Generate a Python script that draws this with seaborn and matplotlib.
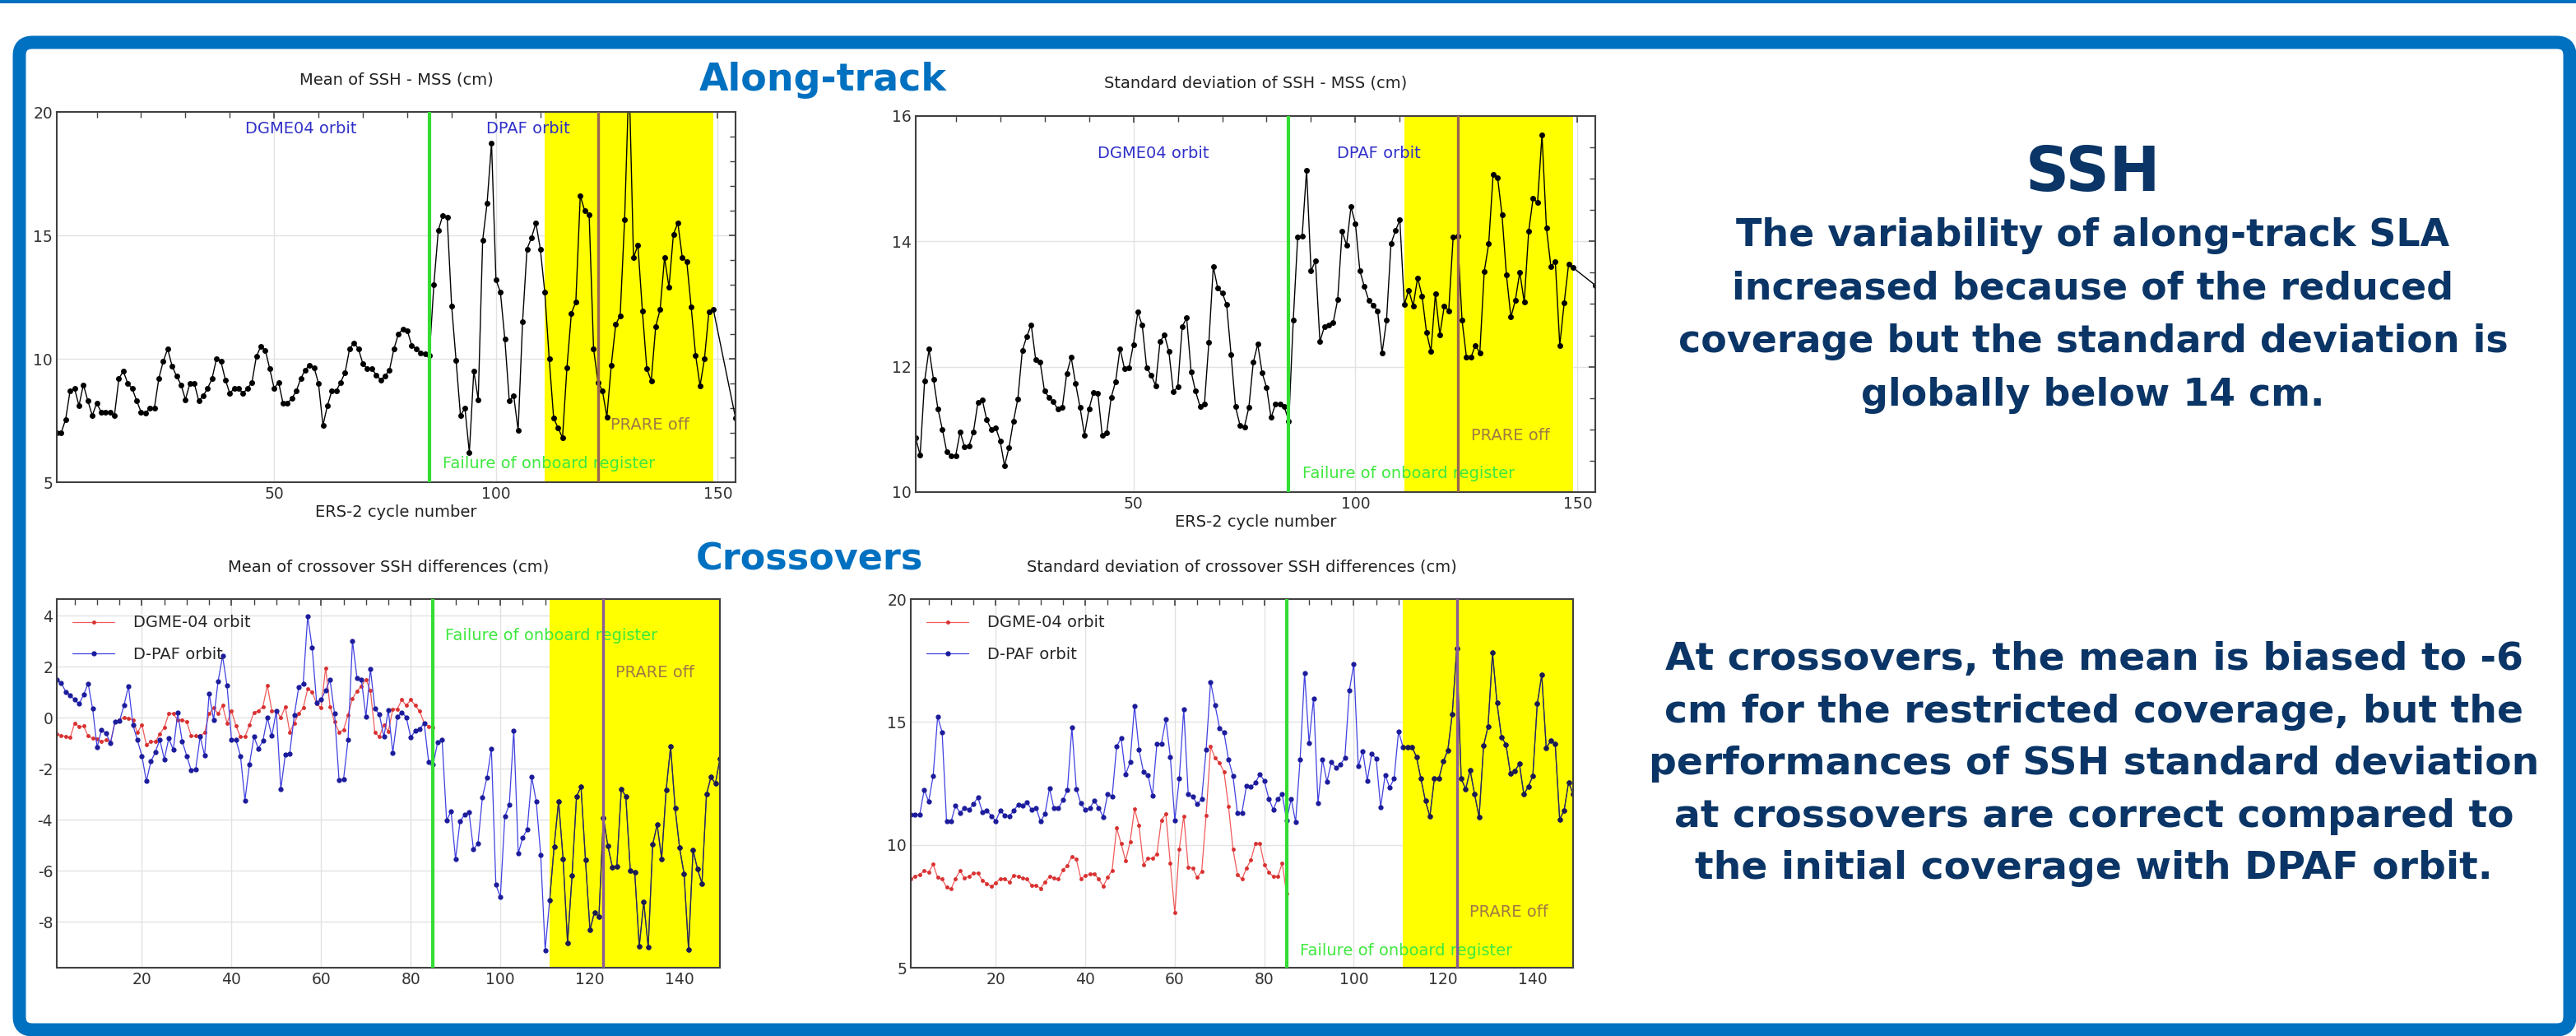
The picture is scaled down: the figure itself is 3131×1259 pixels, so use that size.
import numpy as np
import pandas as pd
import seaborn as sns
import matplotlib.pyplot as plt
from matplotlib.patches import FancyBboxPatch, Rectangle
from matplotlib.ticker import MultipleLocator

# values (ERS-2 cycles)
ssh_mean = [7.0, 7.0, 7.55, 8.7, 8.8, 8.1, 8.95, 8.3, 7.7, 8.2,
            7.85, 7.85, 7.85, 7.7, 9.2, 9.5, 9.0, 8.8, 8.3, 7.85,
            7.8, 8.0, 8.0, 9.2, 9.9, 10.4, 9.7, 9.3, 8.95, 8.35,
            9.0, 9.0, 8.3, 8.5, 8.8, 9.2, 10.0, 9.9, 9.15, 8.6,
            8.8, 8.8, 8.6, 8.8, 9.05, 10.1, 10.5, 10.35, 9.6, 8.8,
            9.05, 8.2, 8.2, 8.4, 8.7, 9.2, 9.55, 9.75, 9.65, 9.0,
            7.3, 8.1, 8.7, 8.7, 9.05, 9.45, 10.4, 10.65, 10.4, 9.8,
            9.6, 9.6, 9.35, 9.15, 9.3, 9.55, 10.4, 11.0, 11.2, 11.15,
            10.55, 10.4, 10.25, 10.2, 10.15, 13.0, 15.2, 15.8, 15.75, 12.15,
            9.95, 7.7, 8.0, 6.2, 9.5, 8.35, 14.8, 16.3, 18.75, 13.2,
            12.7, 10.8, 8.3, 8.5, 7.1, 11.5, 14.45, 14.9, 15.5, 14.45,
            12.7, 10.0, 7.6, 7.2, 6.8, 9.65, 11.85, 12.3, 16.6, 16.0,
            15.85, 10.4, 9.05, 8.7, 7.65, 9.75, 11.4, 11.75, 15.65, 21.5,
            14.1, 14.6, 11.95, 9.6, 9.1, 11.3, 12.0, 14.1, 12.9, 15.05,
            15.5, 14.1, 13.95, 12.1, 10.15, 8.9, 10.0, 11.9, 12.0]

ssh_std = [10.86, 10.59, 11.77, 12.28, 11.8, 11.33, 11.0, 10.64, 10.58, 10.58,
           10.96, 10.72, 10.74, 10.96, 11.43, 11.47, 11.15, 11.0, 11.03, 10.82,
           10.42, 10.71, 11.13, 11.49, 12.26, 12.48, 12.67, 12.12, 12.08, 11.61,
           11.51, 11.44, 11.32, 11.35, 11.89, 12.15, 11.73, 11.35, 10.91, 11.32,
           11.59, 11.58, 10.90, 10.94, 11.51, 11.76, 12.29, 11.97, 11.98, 12.35,
           12.87, 12.66, 11.98, 11.87, 11.70, 12.40, 12.51, 12.24, 11.60, 11.68,
           12.64, 12.78, 11.92, 11.61, 11.37, 11.40, 12.39, 13.60, 13.25, 13.18,
           12.99, 12.19, 11.36, 11.07, 11.04, 11.35, 12.07, 12.36, 11.90, 11.67,
           11.19, 11.40, 11.40, 11.36, 11.13, 12.74, 14.07, 14.08, 15.14, 13.53,
           13.69, 12.40, 12.64, 12.66, 12.71, 13.07, 14.16, 13.94, 14.55, 14.28,
           13.53, 13.28, 13.06, 12.98, 12.89, 12.22, 12.74, 13.96, 14.17, 14.34,
           12.99, 13.22, 12.97, 13.42, 13.13, 12.55, 12.24, 13.16, 12.51, 12.97,
           12.89, 14.07, 14.08, 12.74, 12.15, 12.15, 12.34, 12.22, 13.52, 13.96,
           15.07, 15.02, 14.42, 13.46, 12.79, 13.06, 13.51, 13.03, 14.16, 14.69,
           14.62, 15.70, 14.21, 13.60, 13.68, 12.34, 13.02, 13.64, 13.58]

# last along-track point, sitting on the right edge
tail_cycle = 154
ssh_mean_tail = 7.6
ssh_std_tail = 13.3

xover_mean_dgme = [-0.64, -0.70, -0.73, -0.78, -0.21, -0.35, -0.33, -0.72, -0.81, -0.83,
                   -0.93, -0.88, -0.95, -0.16, -0.10, 0.02, -0.02, -0.10, -0.59, -0.27,
                   -1.07, -0.94, -0.94, -0.64, -0.38, 0.16, 0.16, -0.10, -0.08, -0.16,
                   -0.72, -0.72, -0.72, -0.59, 0.16, 0.38, 0.16, 0.48, -0.21, 0.27,
                   -0.32, -0.75, -0.75, -0.29, 0.21, 0.27, 0.43, 1.27, 0.27, 0.27,
                   0.0, 0.43, -0.56, -0.21, 0.16, 0.38, 1.13, 1.02, 0.54, 0.38,
                   1.95, 0.43, -0.16, -0.56, -0.48, 0.11, 0.75, 1.05, 1.24, 1.5,
                   1.07, -0.59, -0.75, -0.27, -0.54, 0.34, 0.34, 0.7, 0.48, 0.7,
                   0.48, 0.25, -0.21, -0.34, -0.38]

xover_mean_dpaf = [1.5, 1.36, 1.02, 0.89, 0.70, 0.54, 0.91, 1.34, 0.35, -1.15,
                   -0.48, -0.62, -0.99, -0.16, -0.13, 0.48, 1.24, -0.29, -0.88, -1.50,
                   -2.49, -1.72, -1.34, -0.86, -1.63, -0.81, -1.26, 0.19, -0.93, -1.50,
                   -2.06, -2.02, -0.75, -1.48, 0.95, -0.08, 1.42, 2.42, 1.26, -0.86,
                   -0.88, -1.50, -3.24, -1.83, -0.75, -1.21, -0.91, 0.0, -0.72, 0.27,
                   -2.81, -1.45, -1.40, 0.09, 1.20, 1.34, 3.97, 2.74, 0.59, 0.72,
                   1.07, 1.48, 0.16, -2.45, -2.42, -0.88, 3.01, 1.56, 1.48, 0.03,
                   1.90, 0.35, 0.13, -0.75, 0.29, -1.37, 0.03, 0.21, 0.02, -0.77,
                   -0.52, -0.45, -0.21, -1.74, -1.83, -0.97, -0.86, -4.03, -3.67, -5.55,
                   -4.06, -3.81, -3.71, -5.16, -4.94, -3.11, -2.36, -1.21, -6.55, -7.03,
                   -3.87, -3.40, -0.50, -5.32, -4.70, -4.38, -2.33, -3.27, -5.37, -9.11,
                   -7.16, -5.05, -3.27, -5.53, -8.83, -6.20, -3.09, -2.71, -5.58, -8.32,
                   -7.63, -7.79, -3.92, -5.03, -5.85, -5.82, -2.79, -3.09, -5.98, -6.07,
                   -8.97, -7.22, -9.0, -4.97, -4.19, -5.53, -2.84, -1.13, -3.54, -5.10,
                   -6.12, -9.08, -5.18, -5.93, -6.50, -3.01, -2.33, -2.58, -1.61]

xover_std_dgme = [8.60, 8.71, 8.80, 8.94, 8.88, 9.21, 8.67, 8.60, 8.28, 8.20,
                  8.63, 8.94, 8.65, 8.71, 8.85, 8.85, 8.54, 8.43, 8.30, 8.46,
                  8.63, 8.63, 8.48, 8.76, 8.71, 8.65, 8.60, 8.35, 8.35, 8.23,
                  8.48, 8.71, 8.65, 8.60, 8.97, 9.16, 9.53, 9.41, 8.63, 8.74,
                  8.82, 8.82, 8.60, 8.32, 8.67, 8.96, 10.69, 10.05, 9.35, 10.11,
                  11.46, 10.78, 9.19, 9.44, 9.44, 9.63, 11.01, 11.25, 9.24, 7.23,
                  9.83, 11.17, 9.10, 9.04, 8.68, 8.91, 11.20, 14.0, 13.53, 13.33,
                  12.97, 11.57, 9.83, 8.79, 8.60, 9.04, 9.38, 10.05, 10.07, 9.2,
                  8.9, 8.7, 8.7, 9.25, 8.0]

xover_std_dpaf = [11.23, 11.23, 11.23, 12.24, 11.76, 12.8, 15.21, 14.59, 10.95, 10.95,
                  11.59, 11.31, 11.51, 11.42, 11.66, 11.93, 11.34, 11.40, 11.17, 10.97,
                  11.40, 11.19, 11.17, 11.38, 11.64, 11.60, 11.73, 11.42, 11.51, 10.95,
                  11.27, 12.30, 11.48, 11.48, 11.83, 12.22, 14.78, 12.27, 11.68, 11.42,
                  11.49, 11.79, 11.51, 11.14, 12.07, 11.96, 14.0, 14.35, 12.86, 13.36,
                  15.66, 13.87, 12.97, 12.84, 12.0, 14.11, 14.12, 15.10, 13.58, 11.0,
                  12.69, 15.53, 12.05, 11.96, 11.66, 11.85, 13.87, 16.63, 15.68, 14.76,
                  14.56, 13.47, 12.80, 11.29, 11.31, 12.39, 12.35, 12.52, 12.88, 12.60,
                  11.88, 11.43, 11.88, 12.05, 11.0, 11.87, 10.93, 13.47, 17.0, 14.15,
                  15.96, 11.70, 13.47, 12.57, 13.36, 13.13, 13.27, 13.53, 16.27, 17.36,
                  13.19, 13.81, 12.60, 13.70, 13.51, 11.53, 12.85, 12.33, 12.69, 14.61,
                  13.98, 13.98, 13.98, 13.58, 12.69, 11.79, 11.15, 12.69, 12.69, 13.39,
                  13.84, 15.32, 17.98, 12.69, 12.27, 13.03, 12.05, 11.12, 14.03, 14.82,
                  17.81, 15.77, 14.37, 14.09, 12.89, 13.00, 13.30, 12.05, 12.37, 12.80,
                  15.74, 16.91, 13.94, 14.23, 14.12, 11.04, 11.40, 12.55, 12.07]

# events
failure_cycle = 85
prare_cycle = 123
reduced_start, reduced_end = 111, 149

ssh_text = ["The variability of along-track SLA",
            "increased because of the reduced",
            "coverage but the standard deviation is",
            "globally below 14 cm."]
xover_text = ["At crossovers, the mean is biased to -6",
              "cm for the restricted coverage, but the",
              "performances of SSH standard deviation",
              "at crossovers are correct compared to",
              "the initial coverage with DPAF orbit."]

W, H = 3131, 1259
FRAME = '#0070C0'
NAVY = '#0a3566'
FS = 14

sns.set_theme(style='white')
plt.rcParams['font.family'] = ['DejaVu Sans']
plt.rcParams['axes.unicode_minus'] = False

fig = plt.figure(figsize=(W / 100, H / 100), dpi=100)

# background layer in pixel coordinates
bg = fig.add_axes([0, 0, 1, 1])
bg.set_xlim(0, W)
bg.set_ylim(H, 0)
bg.axis('off')
bg.add_patch(Rectangle((0, 0), W, 4, color=FRAME, lw=0))
bg.add_patch(FancyBboxPatch((23.5, 51.5), 3100, 1200,
                            boxstyle='round,pad=0,rounding_size=16',
                            fc='none', ec=FRAME, lw=11.5, clip_on=False))

bg.text(1000, 110, 'Along-track', ha='center', va='baseline', fontsize=33,
        color=FRAME, fontweight='bold')
bg.text(984, 692, 'Crossovers', ha='center', va='baseline', fontsize=32,
        color=FRAME, fontweight='bold')
bg.text(2544, 232, 'SSH', ha='center', va='baseline', fontsize=53,
        color=NAVY, fontweight='bold')
for i, line in enumerate(ssh_text):
    bg.text(2544, 299 + i * 64.5, line, ha='center', va='baseline', fontsize=33,
            color=NAVY, fontweight='bold')
for i, line in enumerate(xover_text):
    bg.text(2545, 814 + i * 63.5, line, ha='center', va='baseline', fontsize=34,
            color=NAVY, fontweight='bold')


def make_ax(left, top, right, bottom):
    return fig.add_axes([left / W, 1 - bottom / H, (right - left) / W, (bottom - top) / H])


def style(ax, xlim, ylim, xmaj, xmin, ymaj, ymin):
    ax.set_xlim(*xlim)
    ax.set_ylim(*ylim)
    ax.xaxis.set_major_locator(MultipleLocator(xmaj))
    ax.xaxis.set_minor_locator(MultipleLocator(xmin))
    ax.yaxis.set_major_locator(MultipleLocator(ymaj))
    ax.yaxis.set_minor_locator(MultipleLocator(ymin))
    ax.tick_params(which='both', direction='in', top=True, right=True,
                   color='#404040', labelsize=13.5, labelcolor='#333333')
    ax.tick_params(which='major', length=6, width=1.2)
    ax.tick_params(which='minor', length=5, width=1)
    ax.set_axisbelow(True)
    ax.grid(True, which='major', color='#e2e2e2', lw=1)
    for s in ax.spines.values():
        s.set_color('#404040')
        s.set_linewidth(1.5)
    ax.set_xlabel('')
    ax.set_ylabel('')


def events(ax, prare_colour):
    span = ax.axvspan(reduced_start, reduced_end, color='#ffff00', lw=0, zorder=0.6)
    ax.axvline(failure_cycle, color='#33dd33', lw=3, zorder=3)
    ax.axvline(prare_cycle, color=prare_colour, lw=2.4, zorder=3)
    return span


def labels(ax, failure_xy, prare_xy, orbit_y=None, dgme_x=None, dpaf_x=None):
    if orbit_y is not None:
        ax.text(dgme_x, orbit_y, 'DGME04 orbit', ha='center', va='center',
                color='#3030c8', fontsize=FS)
        ax.text(dpaf_x, orbit_y, 'DPAF orbit', ha='center', va='center',
                color='#3030c8', fontsize=FS)
    ax.text(*prare_xy, 'PRARE off', ha='left', va='center', color='#a07845', fontsize=FS)
    ax.text(*failure_xy, 'Failure of onboard register', ha='left', va='center',
            color='#3ee83e', fontsize=FS, zorder=1.5)


# ---- along-track mean ----
ax1 = make_ax(69, 136, 894, 586)
events(ax1, '#9a6650')
df1 = pd.DataFrame({'cycle': list(range(1, len(ssh_mean) + 1)) + [tail_cycle],
                    'value': ssh_mean + [ssh_mean_tail]})
sns.lineplot(data=df1, x='cycle', y='value', ax=ax1, color='black', lw=1,
             marker='o', markersize=5, markeredgewidth=0, zorder=2)
style(ax1, (1, 154), (5, 20), 50, 10, 5, 1)
ax1.set_title('Mean of SSH - MSS (cm)', fontsize=FS, color='#222222', pad=24)
ax1.set_xlabel('ERS-2 cycle number', fontsize=FS, color='#222222', labelpad=2)
labels(ax1, (88, 5.75), (125.8, 7.3), 19.3, 56, 107.3)

# ---- along-track std ----
ax2 = make_ax(1113, 141, 1939, 598)
events(ax2, '#9a6650')
df2 = pd.DataFrame({'cycle': list(range(1, len(ssh_std) + 1)) + [tail_cycle],
                    'value': ssh_std + [ssh_std_tail]})
sns.lineplot(data=df2, x='cycle', y='value', ax=ax2, color='black', lw=1,
             marker='o', markersize=5, markeredgewidth=0, zorder=2)
style(ax2, (1, 154), (10, 16), 50, 10, 2, 0.5)
ax2.set_title('Standard deviation of SSH - MSS (cm)', fontsize=FS, color='#222222', pad=25)
ax2.set_xlabel('ERS-2 cycle number', fontsize=FS, color='#222222', labelpad=2)
labels(ax2, (88, 10.3), (126.1, 10.9), 15.4, 54.4, 105.2)


def crossover_panel(ax, dgme, dpaf):
    span = events(ax, '#8a5a9a')
    red = pd.DataFrame({'cycle': range(1, len(dgme) + 1), 'value': dgme})
    blue = pd.DataFrame({'cycle': range(1, len(dpaf) + 1), 'value': dpaf})
    sns.lineplot(data=red, x='cycle', y='value', ax=ax, color='#f05a5a', lw=0.9,
                 marker='o', markersize=3.5, markeredgewidth=0,
                 markerfacecolor='#d83030', label='DGME-04 orbit', zorder=2, legend=False)
    h_red = ax.lines[-1]
    sns.lineplot(data=blue, x='cycle', y='value', ax=ax, color='#4040e0', lw=0.9,
                 marker='o', markersize=4.5, markeredgewidth=0,
                 markerfacecolor='#1c1c9c', label='D-PAF orbit', zorder=2.1, legend=False)
    h_blue = ax.lines[-1]
    # on the yellow band the D-PAF curve reads almost black
    sns.lineplot(data=blue, x='cycle', y='value', ax=ax, color='#2a2a40', lw=0.9,
                 marker='o', markersize=4.5, markeredgewidth=0,
                 markerfacecolor='#1c1c50', zorder=2.2, legend=False)
    ax.lines[-1].set_clip_path(span)
    ax.legend(handles=[h_red, h_blue], loc='upper left', frameon=False, fontsize=FS,
              handlelength=2.6, labelspacing=1.0, borderaxespad=0.6, handletextpad=1.2)


# ---- crossover mean ----
ax3 = make_ax(69, 728, 875, 1176)
crossover_panel(ax3, xover_mean_dgme, xover_mean_dpaf)
style(ax3, (1, 149), (-9.8, 4.65), 20, 5, 2, 0.5)
ax3.set_title('Mean of crossover SSH differences (cm)', fontsize=FS, color='#222222', pad=24)
labels(ax3, (87.6, 3.2), (125.6, 1.77))

# ---- crossover std ----
ax4 = make_ax(1107, 728, 1912, 1176)
crossover_panel(ax4, xover_std_dgme, xover_std_dpaf)
style(ax4, (1, 149), (5, 20), 20, 5, 5, 1)
ax4.set_title('Standard deviation of crossover SSH differences (cm)', fontsize=FS,
              color='#222222', pad=24)
labels(ax4, (87.9, 5.68), (125.8, 7.25))

fig.savefig('out.png', dpi=100, facecolor='white')
